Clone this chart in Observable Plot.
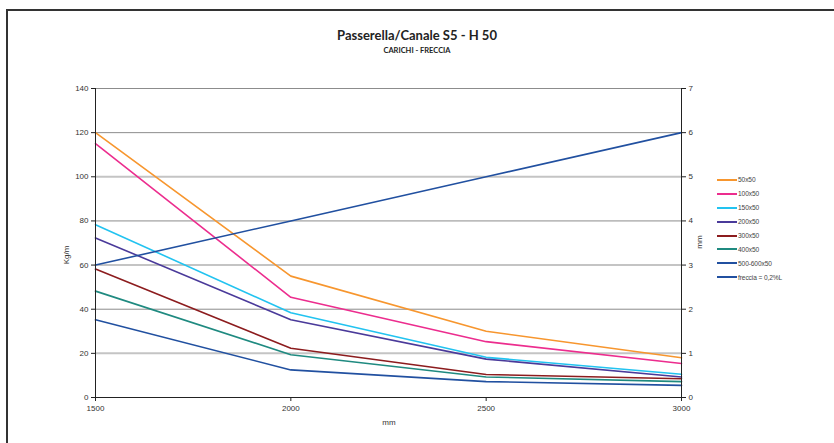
<!DOCTYPE html>
<html>
<head>
<meta charset="utf-8">
<script src="https://cdn.jsdelivr.net/npm/d3@7"></script>
<script src="https://cdn.jsdelivr.net/npm/@observablehq/plot@0.6"></script>
<style>
  html, body { margin: 0; padding: 0; background: #fff; }
  #wrap { position: relative; width: 834px; height: 443px; overflow: hidden; font-family: "Liberation Sans", Arial, sans-serif; }
  #frame { position: absolute; left: 6px; top: 9px; width: 900px; height: 500px; border-left: 2px solid #333; border-top: 2px solid #333; box-sizing: border-box; }
  #title { position: absolute; left: 0; width: 834px; top: 27px; text-align: center; font-family: Lato, sans-serif; font-weight: bold; font-size: 13px; color: #222; }
  #subtitle { position: absolute; left: 0; width: 834px; top: 46px; text-align: center; font-family: Lato, sans-serif; font-weight: bold; font-size: 7.5px; color: #222; }
  #chart { position: absolute; left: 0; top: 70px; }
  #legend { position: absolute; left: 717px; top: 173px; font-size: 6.6px; color: #444; letter-spacing: -0.1px; }
  .item { display: flex; align-items: center; height: 13.9px; }
  .sw { width: 20px; height: 2px; margin-right: 1px; }
  .lab { position: absolute; font-size: 8px; color: #333; }
</style>
</head>
<body>
<div id="wrap">
  <div id="frame"></div>
  <div id="title">Passerella/Canale S5 - H 50</div>
  <div id="subtitle">CARICHI - FRECCIA</div>
  <div id="chart"></div>
  <div id="legend"></div>
</div>
<script>
const spans = [1500, 2000, 2500, 3000];
const seriesNames = ["50x50", "100x50", "150x50", "200x50", "300x50", "400x50", "500-600x50", "freccia = 0,2%L"];
const colors = ["#f7962e", "#ec2d8e", "#22c3f0", "#4a3a9a", "#8c1c1e", "#1f8a80", "#2150a0", "#2150a0"];
const s50 = [120, 55, 30, 18];
const s100 = [115, 45.4, 25.3, 15.4];
const s150 = [78.3, 38.4, 18.2, 10.5];
const s200 = [72.3, 35.2, 17.4, 9.3];
const s300 = [58.2, 22.3, 10.4, 8.5];
const s400 = [48.2, 19.4, 9.3, 7.2];
const s500 = [35.2, 12.5, 7.2, 5.5];
const freccia = [3, 4, 5, 6]; // mm, right axis
const leftTicks = [0, 20, 40, 60, 80, 100, 120, 140];
const rightTicks = [0, 1, 2, 3, 4, 5, 6, 7];
const xTicks = [1500, 2000, 2500, 3000];
const darkGrid = [40, 80, 120, 140];
const lightGrid = [20, 60, 100];

const ratio = 20; // 140 Kg/m <-> 7 mm
const loadSeries = [s50, s100, s150, s200, s300, s400, s500];
const rows = [];
loadSeries.forEach((arr, i) => arr.forEach((v, j) => rows.push({series: seriesNames[i], x: spans[j], y: v})));
freccia.forEach((v, j) => rows.push({series: seriesNames[7], x: spans[j], y: v * ratio}));

const chart = Plot.plot({
  width: 834,
  height: 373,
  marginLeft: 95,
  marginRight: 153,
  marginTop: 18,
  marginBottom: 46,
  style: {fontFamily: "'Liberation Sans', Arial, sans-serif", fontSize: "8px", color: "#333", background: "transparent"},
  x: {domain: [1500, 3000]},
  y: {domain: [0, 140]},
  color: {domain: seriesNames, range: colors},
  marks: [
    Plot.ruleY(lightGrid, {stroke: "#c4c4c4", strokeWidth: 2}),
    Plot.ruleY(darkGrid, {stroke: "#8c8c8c", strokeWidth: 1}),
    Plot.line(rows, {x: "x", y: "y", z: "series", stroke: "series", strokeWidth: 1.6}),
    Plot.axisY({anchor: "left", ticks: leftTicks, tickSize: 4, tickPadding: 3, label: null, stroke: "#222"}),
    Plot.axisY({anchor: "right", ticks: rightTicks.map(d => d * ratio), tickFormat: d => d / ratio, tickSize: 4, tickPadding: 3, label: null, stroke: "#222"}),
    Plot.axisX({ticks: xTicks, tickSize: 4, tickPadding: 4, label: null, tickFormat: d => String(d), stroke: "#222"}),
    Plot.ruleX([1500, 3000], {stroke: "#222", strokeWidth: 1}),
    Plot.ruleY([0], {stroke: "#222", strokeWidth: 1})
  ]
});
document.getElementById("chart").appendChild(chart);

const wrap = document.getElementById("wrap");
function addLabel(text, left, top, rotate) {
  const d = document.createElement("div");
  d.className = "lab";
  d.textContent = text;
  d.style.left = left + "px";
  d.style.top = top + "px";
  if (rotate) d.style.transform = "translate(-50%,-50%) rotate(-90deg)";
  else d.style.transform = "translate(-50%,-50%)";
  wrap.appendChild(d);
}
addLabel("Kg/m", 66, 255, true);
addLabel("mm", 699, 242, true);
addLabel("mm", 389, 422, false);

const legend = document.getElementById("legend");
seriesNames.forEach((n, i) => {
  const it = document.createElement("div");
  it.className = "item";
  const sw = document.createElement("div");
  sw.className = "sw";
  sw.style.background = colors[i];
  const t = document.createElement("span");
  t.textContent = n;
  it.appendChild(sw);
  it.appendChild(t);
  legend.appendChild(it);
});
</script>
</body>
</html>
